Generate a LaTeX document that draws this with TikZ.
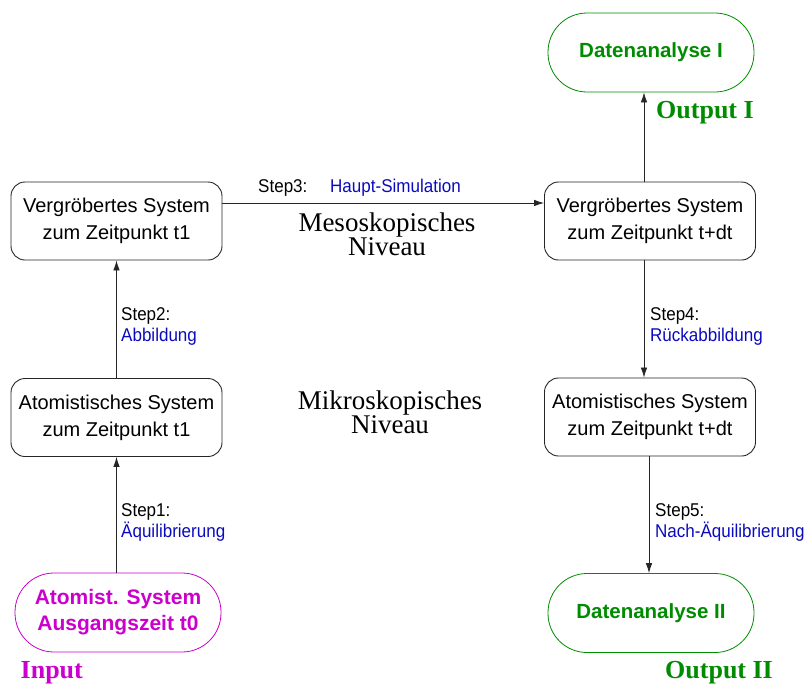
\documentclass[tikz,border=0pt]{standalone}
\usepackage{fontspec}
\setmainfont{Liberation Sans}
\newfontfamily\levelfont{Liberation Serif}
\newfontfamily\stepfont[FakeStretch=0.92]{Liberation Sans}
\usetikzlibrary{arrows.meta}
\definecolor{stepblue}{RGB}{10,10,190}
\definecolor{outgreen}{RGB}{0,140,0}
\definecolor{inmagenta}{RGB}{204,0,204}
\begin{document}
\begin{tikzpicture}[x=1pt,y=-1pt,
  sysbox/.style={draw=black!85, line width=0.9pt, rounded corners=14pt,
    minimum width=211pt, minimum height=78pt, inner sep=0pt, align=center,
    font=\fontsize{20}{27}\selectfont},
  termbox/.style={draw, line width=0.8pt, rounded corners=39pt,
    minimum width=206pt, minimum height=79pt, inner sep=0pt, align=center,
    font=\bfseries\fontsize{20.5}{26}\selectfont},
  steplabel/.style={anchor=base west, inner sep=0pt,
    font=\stepfont\fontsize{18.5}{21}\selectfont},
  levellabel/.style={align=center, inner sep=0pt,
    font=\levelfont\fontsize{27}{23.5}\selectfont},
  iolabel/.style={anchor=base west, inner sep=0pt,
    font=\levelfont\bfseries\fontsize{26}{26}\selectfont},
  arr/.style={-{Latex[length=10pt,width=6.5pt]}, line width=0.8pt, black!85}]
\useasboundingbox (0,0) rectangle (806,683);

% meso level
\node[sysbox] (v1) at (116.5,221) {Vergröbertes System\\zum Zeitpunkt t1};
\node[sysbox] (v2) at (650,221) {Vergröbertes System\\zum Zeitpunkt t+dt};
% micro level
\node[sysbox] (a1) at (116.5,417.5) {Atomistisches System\\zum Zeitpunkt t1};
\node[sysbox] (a2) at (650,417) {Atomistisches System\\zum Zeitpunkt t+dt};

% start and end terminals
\node[termbox, draw=inmagenta, text=inmagenta, font=\bfseries\fontsize{21}{26}\selectfont]
  (in) at (118,612.5) {Atomist. System\\Ausgangszeit t0};
\node[termbox, draw=outgreen, text=outgreen] (d1) at (651,52.5) {Datenanalyse I};
\node[termbox, draw=outgreen, text=outgreen] (d2) at (651,613) {Datenanalyse II};

% level names
\node[levellabel] (meso) at (387,234.3) {Mesoskopisches\\Niveau};
\node[levellabel] (mikro) at (390,412.3) {Mikroskopisches\\Niveau};

% input / output captions
\node[iolabel, text=inmagenta] (inlab) at (20.5,678) {Input};
\node[iolabel, text=outgreen] (out1) at (656,118) {Output I};
\node[iolabel, text=outgreen] (out2) at (665,678) {Output II};

% simulation steps
\draw[arr] (in.north -| a1.south) -- (a1.south);
\node[steplabel] (s1a) at (121,516) {Step1:};
\node[steplabel, text=stepblue] (s1b) at (121,537) {Äquilibrierung};

\draw[arr] (a1.north) -- (v1.south);
\node[steplabel] (s2a) at (121,320) {Step2:};
\node[steplabel, text=stepblue] (s2b) at (121,341) {Abbildung};

\draw[arr] ([yshift=18pt]v1.east) -- ([yshift=18pt]v2.west);
\node[steplabel] (s3a) at (258,192.5) {Step3:};
\node[steplabel, text=stepblue] (s3b) at (330,192.5) {Haupt-Simulation};

\draw[arr] ([xshift=-6pt]v2.south) -- ([xshift=-6pt]v2.south |- a2.north);
\node[steplabel] (s4a) at (650,320) {Step4:};
\node[steplabel, text=stepblue] (s4b) at (650,341) {Rückabbildung};

\draw[arr] ([xshift=-1pt]a2.south) -- ([xshift=-1pt]a2.south |- d2.north);
\node[steplabel] (s5a) at (655,516) {Step5:};
\node[steplabel, text=stepblue] (s5b) at (655,537) {Nach-Äquilibrierung};

\draw[arr] ([xshift=-6pt]v2.north) -- ([xshift=-6pt]v2.north |- d1.south);
\end{tikzpicture}
\end{document}
